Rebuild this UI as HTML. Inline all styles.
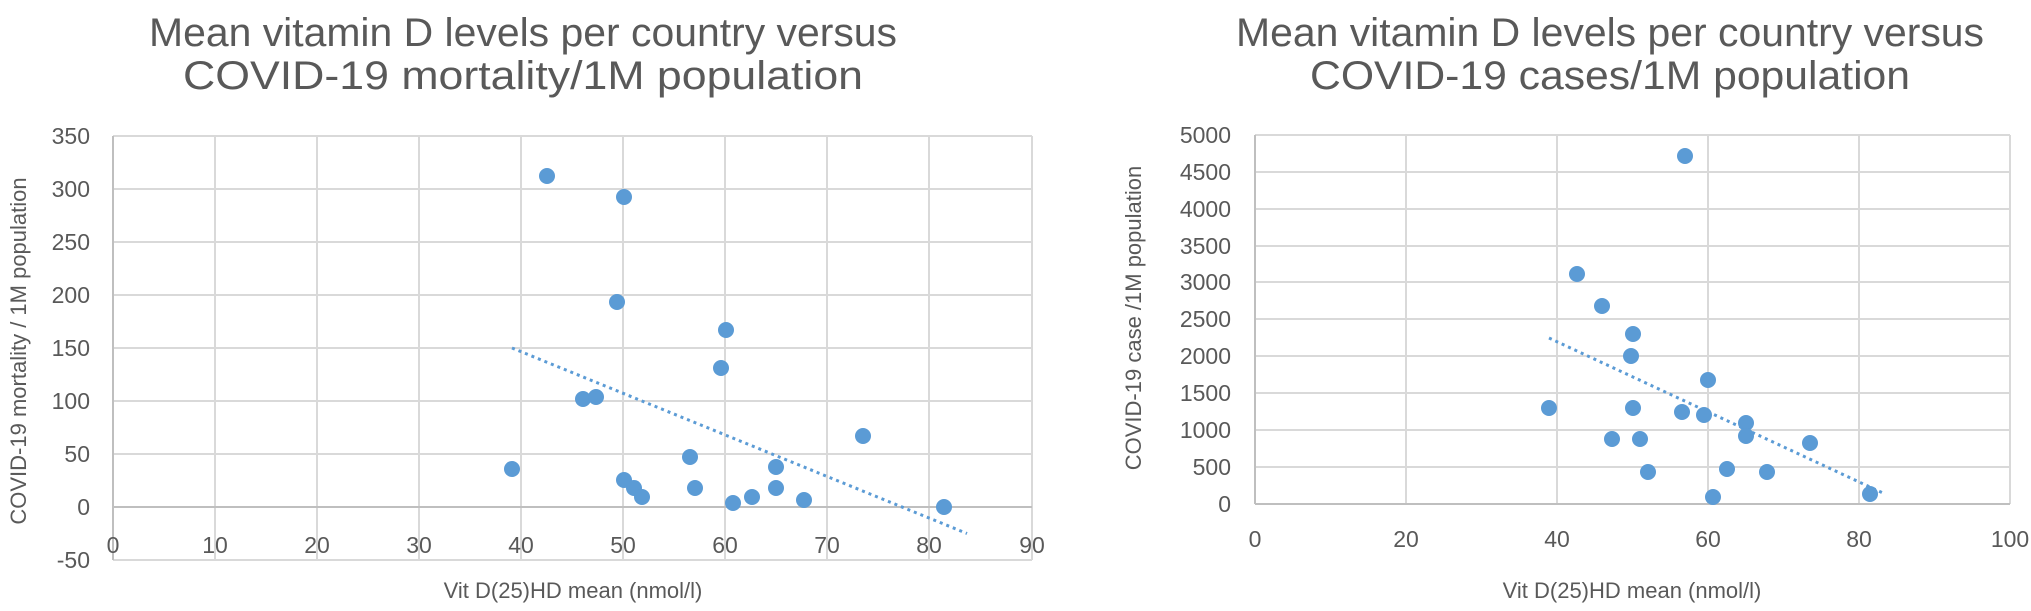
<!DOCTYPE html>
<html><head><meta charset="utf-8"><style>body{margin:0;background:#fff}svg{display:block}</style></head>
<body>
<svg width="2031" height="611" xmlns="http://www.w3.org/2000/svg" font-family="Liberation Sans, sans-serif" fill="#595959">
<rect width="2031" height="611" fill="#fff"/>
<!-- LEFT CHART -->
<g stroke="#d9d9d9" stroke-width="2">
<line x1="113" y1="136" x2="1032" y2="136"/><line x1="113" y1="189" x2="1032" y2="189"/><line x1="113" y1="242" x2="1032" y2="242"/><line x1="113" y1="295" x2="1032" y2="295"/><line x1="113" y1="348" x2="1032" y2="348"/><line x1="113" y1="401" x2="1032" y2="401"/><line x1="113" y1="454" x2="1032" y2="454"/><line x1="113" y1="507" x2="1032" y2="507"/><line x1="113" y1="560" x2="1032" y2="560"/>
<line x1="215" y1="136" x2="215" y2="560"/><line x1="317" y1="136" x2="317" y2="560"/><line x1="419" y1="136" x2="419" y2="560"/><line x1="521" y1="136" x2="521" y2="560"/><line x1="623" y1="136" x2="623" y2="560"/><line x1="725" y1="136" x2="725" y2="560"/><line x1="827" y1="136" x2="827" y2="560"/><line x1="929" y1="136" x2="929" y2="560"/><line x1="1032" y1="136" x2="1032" y2="560"/>
<line x1="113" y1="136" x2="113" y2="560" stroke="#bfbfbf"/>
<line x1="113" y1="507" x2="1032" y2="507" stroke="#bfbfbf"/>
</g>
<g font-size="23" text-anchor="end">
<text x="90" y="144">350</text><text x="90" y="197">300</text><text x="90" y="250">250</text><text x="90" y="303">200</text><text x="90" y="356">150</text><text x="90" y="409">100</text><text x="90" y="462">50</text><text x="90" y="515">0</text><text x="90" y="568">-50</text>
</g>
<g font-size="23" text-anchor="middle">
<text x="113" y="553">0</text><text x="215" y="553">10</text><text x="317" y="553">20</text><text x="419" y="553">30</text><text x="521" y="553">40</text><text x="623" y="553">50</text><text x="725" y="553">60</text><text x="827" y="553">70</text><text x="929" y="553">80</text><text x="1032" y="553">90</text>
</g>
<text x="573" y="598" font-size="22" text-anchor="middle">Vit D(25)HD mean (nmol/l)</text>
<text transform="translate(26,351) rotate(-90)" font-size="22" text-anchor="middle">COVID-19 mortality / 1M population</text>
<text x="523" y="46" font-size="40" text-anchor="middle" textLength="748" lengthAdjust="spacingAndGlyphs">Mean vitamin D  levels per country versus</text>
<text x="523" y="89" font-size="40" text-anchor="middle" textLength="680" lengthAdjust="spacingAndGlyphs">COVID-19 mortality/1M population</text>
<line x1="512" y1="348" x2="967" y2="533.5" stroke="#5b9bd5" stroke-width="3" stroke-dasharray="3,4"/>
<g fill="#5b9bd5">
<ellipse cx="512" cy="469" rx="8" ry="8"/><ellipse cx="547" cy="176" rx="8" ry="8"/><ellipse cx="624" cy="197" rx="8" ry="8"/><ellipse cx="617" cy="302" rx="8" ry="8"/><ellipse cx="726" cy="330" rx="8" ry="8"/><ellipse cx="721" cy="368" rx="8" ry="8"/><ellipse cx="583" cy="399" rx="8" ry="8"/><ellipse cx="596" cy="397" rx="8" ry="8"/><ellipse cx="690" cy="457" rx="8" ry="8"/><ellipse cx="776" cy="467" rx="8" ry="8"/><ellipse cx="863" cy="436" rx="8" ry="8"/><ellipse cx="624" cy="480" rx="8" ry="8"/><ellipse cx="634" cy="488" rx="8" ry="8"/><ellipse cx="642" cy="497" rx="8" ry="8"/><ellipse cx="695" cy="488" rx="8" ry="8"/><ellipse cx="733" cy="503" rx="8" ry="8"/><ellipse cx="752" cy="497" rx="8" ry="8"/><ellipse cx="776" cy="488" rx="8" ry="8"/><ellipse cx="804" cy="500" rx="8" ry="8"/><ellipse cx="944" cy="507" rx="8" ry="8"/>
</g>
<!-- RIGHT CHART -->
<g stroke="#d9d9d9" stroke-width="2">
<line x1="1255" y1="135" x2="2010" y2="135"/><line x1="1255" y1="172" x2="2010" y2="172"/><line x1="1255" y1="209" x2="2010" y2="209"/><line x1="1255" y1="246" x2="2010" y2="246"/><line x1="1255" y1="282" x2="2010" y2="282"/><line x1="1255" y1="319" x2="2010" y2="319"/><line x1="1255" y1="356" x2="2010" y2="356"/><line x1="1255" y1="393" x2="2010" y2="393"/><line x1="1255" y1="430" x2="2010" y2="430"/><line x1="1255" y1="467" x2="2010" y2="467"/>
<line x1="1406" y1="135" x2="1406" y2="504"/><line x1="1557" y1="135" x2="1557" y2="504"/><line x1="1708" y1="135" x2="1708" y2="504"/><line x1="1859" y1="135" x2="1859" y2="504"/><line x1="2010" y1="135" x2="2010" y2="504"/>
<line x1="1255" y1="135" x2="1255" y2="504" stroke="#bfbfbf"/>
<line x1="1255" y1="504" x2="2010" y2="504" stroke="#bfbfbf"/>
</g>
<g font-size="23" text-anchor="end">
<text x="1231" y="143">5000</text><text x="1231" y="180">4500</text><text x="1231" y="217">4000</text><text x="1231" y="254">3500</text><text x="1231" y="290">3000</text><text x="1231" y="327">2500</text><text x="1231" y="364">2000</text><text x="1231" y="401">1500</text><text x="1231" y="438">1000</text><text x="1231" y="475">500</text><text x="1231" y="512">0</text>
</g>
<g font-size="23" text-anchor="middle">
<text x="1255" y="547">0</text><text x="1406" y="547">20</text><text x="1557" y="547">40</text><text x="1708" y="547">60</text><text x="1859" y="547">80</text><text x="2010" y="547">100</text>
</g>
<text x="1632" y="598" font-size="22" text-anchor="middle">Vit D(25)HD mean (nmol/l)</text>
<text transform="translate(1141,318) rotate(-90)" font-size="22" text-anchor="middle">COVID-19 case /1M population</text>
<text x="1610" y="46" font-size="40" text-anchor="middle" textLength="748" lengthAdjust="spacingAndGlyphs">Mean vitamin D  levels per country versus</text>
<text x="1610" y="89" font-size="40" text-anchor="middle" textLength="600" lengthAdjust="spacingAndGlyphs">COVID-19 cases/1M population</text>
<line x1="1549" y1="338" x2="1885" y2="494" stroke="#5b9bd5" stroke-width="3" stroke-dasharray="3,4"/>
<g fill="#5b9bd5">
<ellipse cx="1549" cy="408" rx="8" ry="8"/><ellipse cx="1577" cy="274" rx="8" ry="8"/><ellipse cx="1602" cy="306" rx="8" ry="8"/><ellipse cx="1633" cy="334" rx="8" ry="8"/><ellipse cx="1631" cy="356" rx="8" ry="8"/><ellipse cx="1633" cy="408" rx="8" ry="8"/><ellipse cx="1612" cy="439" rx="8" ry="8"/><ellipse cx="1640" cy="439" rx="8" ry="8"/><ellipse cx="1648" cy="472" rx="8" ry="8"/><ellipse cx="1685" cy="156" rx="8" ry="8"/><ellipse cx="1682" cy="412" rx="8" ry="8"/><ellipse cx="1704" cy="415" rx="8" ry="8"/><ellipse cx="1708" cy="380" rx="8" ry="8"/><ellipse cx="1746" cy="423" rx="8" ry="8"/><ellipse cx="1746" cy="436" rx="8" ry="8"/><ellipse cx="1713" cy="497" rx="8" ry="8"/><ellipse cx="1727" cy="469" rx="8" ry="8"/><ellipse cx="1767" cy="472" rx="8" ry="8"/><ellipse cx="1810" cy="443" rx="8" ry="8"/><ellipse cx="1870" cy="494" rx="8" ry="8"/>
</g>
</svg>
</body></html>
